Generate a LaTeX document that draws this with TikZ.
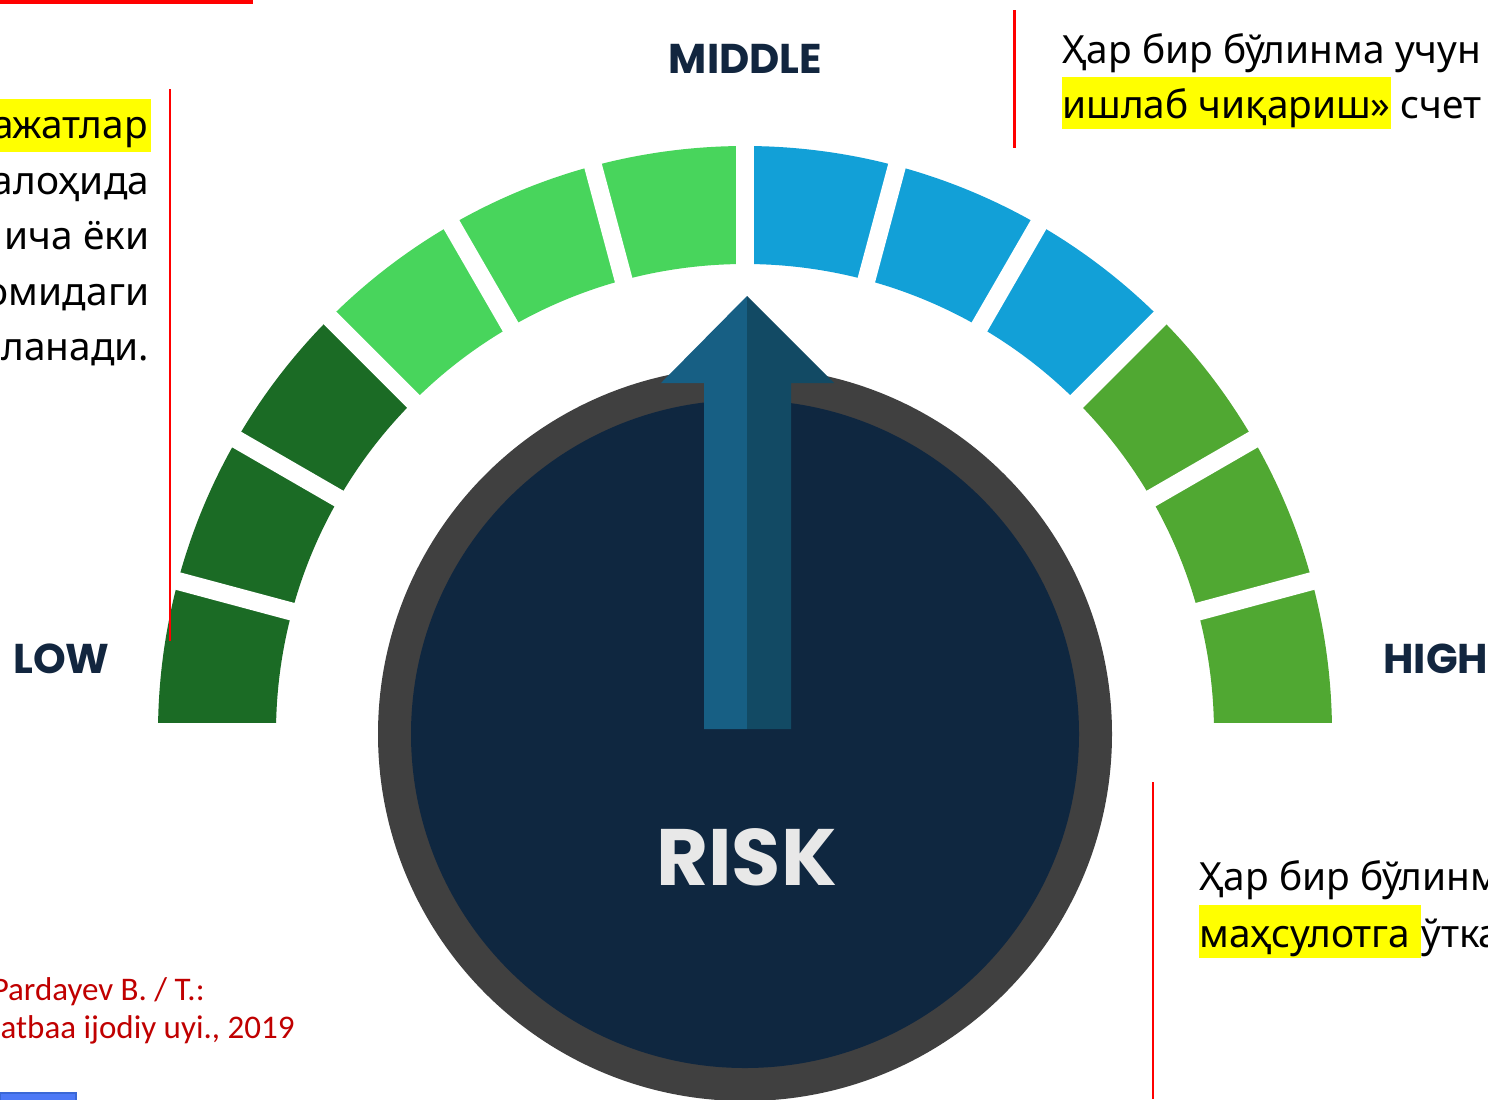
\documentclass[tikz,border=0pt]{standalone}
\usepackage{fontspec}
\setmainfont{Noto Sans}
\newfontfamily\popfont{Poppins}
\newfontfamily\calfont{Carlito}
\usetikzlibrary{calc}
\definecolor{dkg}{HTML}{1B6B25}
\definecolor{ltg}{HTML}{48D55C}
\definecolor{blu}{HTML}{12A0D7}
\definecolor{mdg}{HTML}{50A832}
\definecolor{ringc}{HTML}{404040}
\definecolor{navy}{HTML}{0F2740}
\definecolor{arrL}{HTML}{175F84}
\definecolor{arrR}{HTML}{124A64}
\definecolor{lblc}{HTML}{12263F}
\definecolor{riskc}{HTML}{E8E8E8}
\definecolor{refred}{HTML}{C00000}
\definecolor{hiy}{HTML}{FFFF00}
\definecolor{boxblue}{HTML}{4D79F6}
\definecolor{boxblued}{HTML}{3A68D6}
\tikzset{
  lbl/.style={font=\popfont\bfseries\fontsize{20.8}{24}\selectfont, text=lblc, inner sep=0pt},
  risklbl/.style={font=\popfont\bfseries\fontsize{40}{44}\selectfont, text=riskc, inner sep=0pt},
  txt/.style={font=\fontsize{19.4}{27.5}\selectfont, text=black, inner sep=0pt},
  hl/.style={txt, fill=hiy, inner xsep=0pt, inner ysep=0pt},
  reftxt/.style={font=\calfont\fontsize{16.5}{20}\selectfont, text=refred, inner sep=0pt},
  redline/.style={draw=red, line width=1.4pt},
}
\begin{document}
\begin{tikzpicture}[x=0.5pt,y=0.5pt]
\useasboundingbox (0,0) rectangle (1488,-1099);
\clip (0,0) rectangle (1488,-1099);
\fill[white] (0,0) rectangle (1488,-1099);

% gauge segments
\coordinate (C) at (745,-733);
\begin{scope}
\clip (0,0) rectangle (1488,-722);
\foreach \i/\col in {0/dkg,1/dkg,2/dkg,3/ltg,4/ltg,5/ltg,6/blu,7/blu,8/blu,9/mdg,10/mdg,11/mdg}{
  \pgfmathsetmacro\a{180-15*\i}
  \pgfmathsetmacro\b{165-15*\i}
  \fill[\col] ($(C)+(\a:293.5pt)$) arc[start angle=\a, end angle=\b, radius=293.5pt]
     -- ($(C)+(\b:234.5pt)$) arc[start angle=\b, end angle=\a, radius=234.5pt] -- cycle;
}
\foreach \g in {15,30,...,165}{
  \draw[white, line width=9pt] ($(C)+(\g:225pt)$) -- ($(C)+(\g:302pt)$);
}
\end{scope}

% dial
\coordinate (D) at (745,-734);
\fill[ringc] (D) circle[radius=183.5pt];
\fill[navy] (D) circle[radius=167pt];

% arrow
\fill[arrL] (661,-383) -- (747,-296) -- (747,-729) -- (704,-729) -- (704,-383) -- cycle;
\fill[arrR] (747,-296) -- (834,-383) -- (791,-383) -- (791,-729) -- (747,-729) -- cycle;

% labels
\node[lbl] (mid) at (745.5,-58.5) {MIDDLE};
\node[lbl] (low) at (61.5,-659) {LOW};
\node[lbl, anchor=west] (high) at (1383,-658.5) {HIGH};
\node[risklbl] (risk) at (746.5,-857) {RISK};

% red lines
\fill[red] (0,0) rectangle (253,-3.5);
\draw[redline] (170,-89) -- (170,-641);
\draw[redline] (1014.5,-10) -- (1014.5,-148);
\draw[redline] (1153,-782) -- (1153,-1099);

% left text
\node[hl, anchor=base east, text height=19.5pt, text depth=7pt, inner xsep=1.5pt] (l1) at (151,-138) {ажатлар};
\node[txt, anchor=base east] (l2) at (149.5,-194) {алоҳида};
\node[txt, anchor=base east] (l3) at (149.5,-249) {ича ёки};
\node[txt, anchor=base east] (l4) at (149.5,-305) {омидаги};
\node[txt, anchor=base east] (l5) at (149.5,-360) {ланади.};

% top-right text
\node[txt, anchor=base west] (t1) at (1062,-63) {Ҳар бир бўлинма учун};
\node[hl, anchor=base west, text height=20.5pt, text depth=5.5pt] (t2) at (1062,-118) {ишлаб чиқариш»};
\node[txt, anchor=base west] (t3) at ($(t2.base east)+(9,0)$) {счет};

% bottom-right text
\node[txt, anchor=base west] (b1) at (1199,-890) {Ҳар бир бўлинма};
\node[hl, anchor=base west, text height=21pt, text depth=5.5pt] (b2) at (1199,-947) {маҳсулотга\ \mbox{}};
\node[txt, anchor=base west] (b3) at (b2.base east) {ўтка};

% reference text
\node[reftxt, anchor=base east] (r1) at (205,-1000) {Pardayev B. / T.:};
\node[reftxt, anchor=base east] (r2) at (295,-1038) {atbaa ijodiy uyi., 2019};

% blue box
\filldraw[fill=boxblue, draw=boxblued, line width=1pt] (0,-1092.5) rectangle (76,-1101);
\end{tikzpicture}
\end{document}
